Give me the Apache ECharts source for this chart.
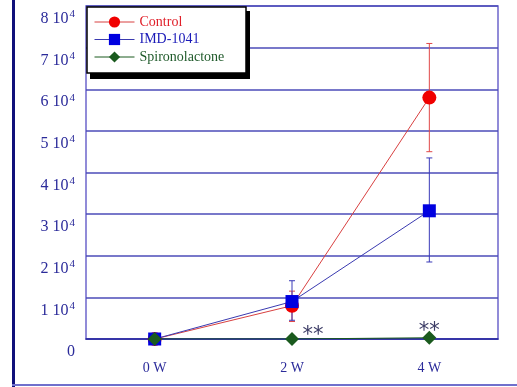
<!DOCTYPE html>
<html><head><meta charset="utf-8">
<script src="https://cdn.jsdelivr.net/npm/echarts@6/dist/echarts.min.js"></script>
<style>html,body{margin:0;padding:0;background:#fff}#c{width:517px;height:387px}</style>
</head><body><div id="c"></div>
<script>
var categories = ['0 W', '2 W', '4 W'];
var seriesNames = ['Control', 'IMD-1041', 'Spironolactone'];
var control = [0, 8000, 58000];
var controlLow = [0, 4200, 45000];
var controlHigh = [0, 11500, 71000];
var imd = [0, 9000, 30800];
var imdLow = [0, 4500, 18500];
var imdHigh = [0, 14000, 43500];
var spiro = [0, 0, 300];
var spiroMarks = ['', '**', '**'];
var yTicks = [0, 10000, 20000, 30000, 40000, 50000, 60000, 70000, 80000];

var FONT = 'Liberation Serif';
var navy = '#2b2b9a';

function errSeries(low, high, color) {
  var d = low.map(function (l, i) { return [i, l, high[i]]; });
  return {
    type: 'custom', z: 2, silent: true,
    data: d,
    renderItem: function (params, api) {
      var x = api.value(0);
      var p1 = api.coord([x, api.value(1)]);
      var p2 = api.coord([x, api.value(2)]);
      var w = 3;
      var st = { stroke: color, lineWidth: 1 };
      return { type: 'group', children: [
        { type: 'line', shape: { x1: p1[0], y1: p1[1], x2: p2[0], y2: p2[1] }, style: st },
        { type: 'line', shape: { x1: p1[0] - w, y1: p1[1], x2: p1[0] + w, y2: p1[1] }, style: st },
        { type: 'line', shape: { x1: p2[0] - w, y1: p2[1], x2: p2[0] + w, y2: p2[1] }, style: st }
      ]};
    }
  };
}

var labelOffsets = [[0, 0], [21, -3], [0, -6]];

var chart = echarts.init(document.getElementById('c'), null, { renderer: 'canvas' });
chart.setOption({
  backgroundColor: '#fff',
  animation: false,
  grid: { left: 86, top: 6, right: 19, bottom: 48, show: true, borderColor: '#6e66cc', borderWidth: 1.5, backgroundColor: 'transparent' },
  xAxis: {
    type: 'category', data: categories, boundaryGap: true,
    axisLine: { lineStyle: { color: '#2a2aa0', width: 1.5 } },
    axisTick: { show: false },
    axisLabel: { fontFamily: FONT, fontSize: 14, color: navy, margin: 22 }
  },
  yAxis: {
    type: 'value', min: 0, max: 80000, interval: 10000,
    axisLine: { show: false }, axisTick: { show: false },
    splitLine: { lineStyle: { color: '#4b4bb8', width: 1.5 } },
    axisLabel: {
      margin: 11, verticalAlign: 'top', padding: [3, 0, 0, 0],
      formatter: function (v) {
        if (v === 0) return '{b|0}';
        return '{b|' + (v / 10000) + ' 10}{s|4}';
      },
      rich: {
        b: { fontFamily: FONT, fontSize: 16, color: navy, verticalAlign: 'bottom', lineHeight: 18 },
        s: { fontFamily: FONT, fontSize: 11, color: navy, verticalAlign: 'top', lineHeight: 18, padding: [0, 0, 6, 1] }
      }
    }
  },
  legend: {
    orient: 'vertical', left: 94, top: 15, z: 20, padding: 0,
    itemWidth: 40, itemHeight: 14, itemGap: 3.5,
    lineStyle: { width: 1 },
    textStyle: { fontFamily: FONT, fontSize: 14 },
    data: [
      { name: 'Control', textStyle: { color: '#e0202a' } },
      { name: 'IMD-1041', textStyle: { color: '#1a1ab8' } },
      { name: 'Spironolactone', textStyle: { color: '#1f5a2a' } }
    ]
  },
  graphic: [
    { type: 'rect', z: 14, shape: { x: 90, y: 11, width: 160, height: 68 }, style: { fill: '#000' } },
    { type: 'rect', z: 15, shape: { x: 87, y: 7, width: 159, height: 66 },
      style: { fill: '#fff', stroke: '#000', lineWidth: 1.5 } },
    { type: 'rect', z: 15, shape: { x: 12, y: 0, width: 3, height: 387 }, style: { fill: '#10107a' } },
    { type: 'rect', z: 15, shape: { x: 12, y: 384, width: 505, height: 2 }, style: { fill: '#7070cc' } }
  ],
  series: [
    errSeries(controlLow, controlHigh, '#e04848'),
    errSeries(imdLow, imdHigh, '#3a3ab8'),
    {
      name: seriesNames[0], type: 'line', data: control, z: 4,
      symbol: 'circle', symbolSize: 14,
      itemStyle: { color: '#f00000' }, lineStyle: { color: '#d84040', width: 1 }
    },
    {
      name: seriesNames[1], type: 'line', data: imd, z: 5,
      symbol: 'rect', symbolSize: 13,
      itemStyle: { color: '#0000e0' }, lineStyle: { color: '#3a3ab0', width: 1 }
    },
    {
      name: seriesNames[2], type: 'line', z: 6,
      data: spiro.map(function (v, i) {
        return { value: v, label: { show: spiroMarks[i] !== '', formatter: spiroMarks[i], offset: labelOffsets[i] } };
      }),
      symbol: 'diamond', symbolSize: 14,
      label: { position: 'inside', fontFamily: 'DejaVu Sans', fontSize: 21, color: '#3c3c66' },
      itemStyle: { color: '#1a5a1e' }, lineStyle: { color: '#1a5a1e', width: 1 }
    }
  ]
});
</script>
</body></html>
